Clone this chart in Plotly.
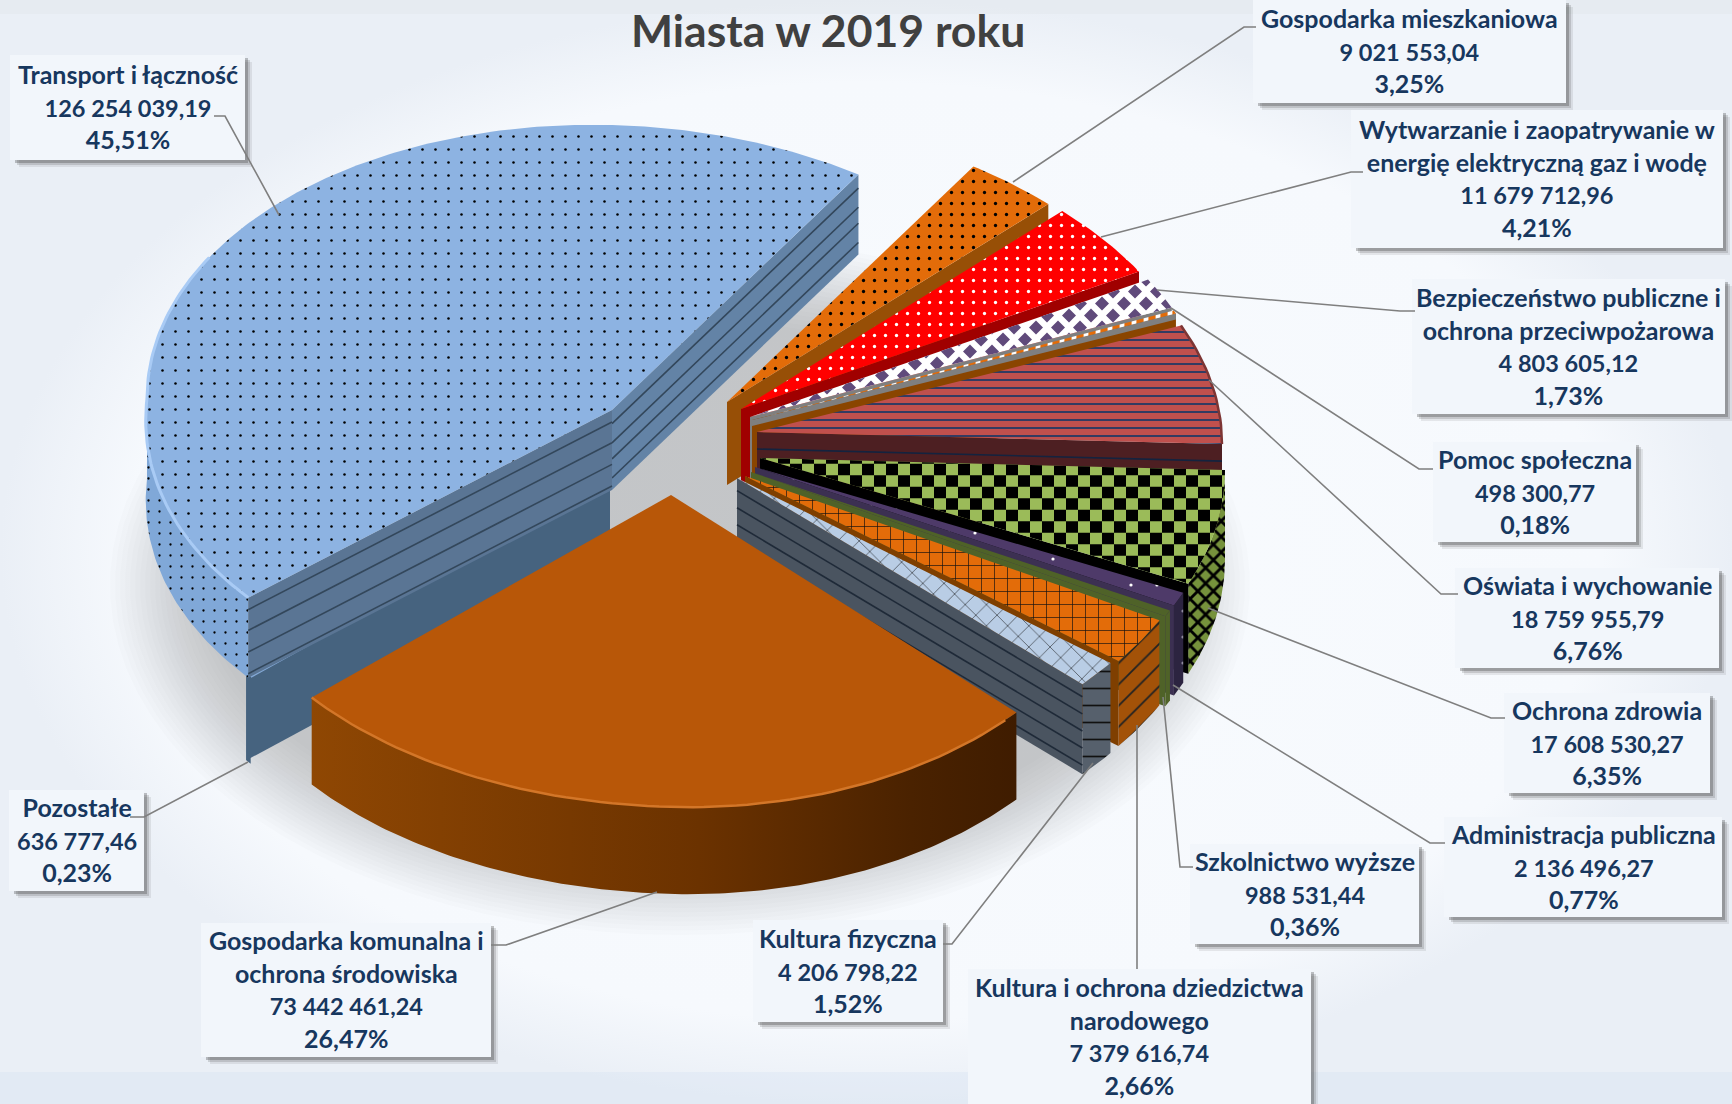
import math
import numpy as np
import plotly.graph_objects as go

# ---------- data ----------
names = ["Gospodarka mieszkaniowa", "Wytwarzanie i zaopatrywanie w<br>energię elektryczną gaz i wodę",
         "Bezpieczeństwo publiczne i<br>ochrona przeciwpożarowa", "Pomoc społeczna", "Oświata i wychowanie",
         "Ochrona zdrowia", "Administracja publiczna", "Szkolnictwo wyższe",
         "Kultura i ochrona dziedzictwa<br>narodowego", "Kultura fizyczna",
         "Gospodarka komunalna i<br>ochrona środowiska", "Pozostałe", "Transport i łączność"]
values = [9021553.04, 11679712.96, 4803605.12, 498300.77, 18759955.79, 17608530.27, 2136496.27,
          988531.44, 7379616.74, 4206798.22, 73442461.24, 636777.46, 126254039.19]
percents = ["3,25%", "4,21%", "1,73%", "0,18%", "6,76%", "6,35%", "0,77%", "0,36%", "2,66%", "1,52%",
            "26,47%", "0,23%", "45,51%"]
title = "Miasta w 2019 roku"

# ---------- layout of the exploded pie ----------
START = 32.0
apex = [(727, 402), (741, 409), (750, 417), (752, 420), (757, 432), (760, 458), (755, 467), (751, 472),
        (745, 476), (737, 478), (671, 495), (610, 475), (612, 410)]
depth = [83, 75, 80, 80, 85, 90, 90, 90, 85, 90, 87, 89, 80]
near = [295, 295, 295, 295, 295, 295, 295, 295, 295, 295, 312, 308, 295]
RX, FAR, SHEAR = 465, 285, 0.025

top_style = [
    dict(bg="#e36c09", fg="#000000", shape=".", size=11, sol=0.07),
    dict(bg="#ff0000", fg="#ffffff", shape=".", size=11, sol=0.07),
    dict(bg="#ffffff"),
    dict(bg="#e36c09", fg="#ffffff", shape="|", size=12, sol=0.4),
    dict(bg="#c0504d", fg="#1f3864", shape="-", size=8, sol=0.22),
    dict(bg="#9bbb59"),
    dict(bg="#4e3a69", fg="#ffffff", shape=".", size=26, sol=0.012),
    dict(bg="#4f6228"),
    dict(bg="#e36c09", fg="#111111", shape="+", size=13, sol=0.1),
    dict(bg="#b9cde5", fg="#111111", shape="x", size=15, sol=0.07),
    dict(bg="#b85708"),
    dict(bg="#8db3e2"),
    dict(bg="#8db3e2", fg="#000000", shape=".", size=13, sol=0.03),
]
wall_col = ["#974f06", "#a00000", "#7f7f7f", "#8a4500", "#4d1f22", "#000000", "#3c3052", "#4f6228",
            "#7f3f00", "#4a5460", "#b85708", "#46637f", "#6383a6"]
rim_style = {5: dict(bg="#76923c", fg="#000000", shape="x", size=11, sol=0.45),
             6: dict(bg="#2c2440", fg="#8f8aa0", shape=".", size=26, sol=0.012),
             7: dict(bg="#4f6228"),
             8: dict(bg="#a35208", fg="#222222", shape="/", size=15, sol=0.12),
             9: dict(bg="#56606c", fg="#111111", shape="-", size=17, sol=0.1),
             12: dict(bg="#80a8d8", fg="#000000", shape=".", size=11, sol=0.035),
             11: dict(bg="#46637f")}
stripes = {4: (0.2, 0.45, 0.7), 9: (0.14, 0.33, 0.52, 0.71, 0.9), 12: (0.17, 0.41, 0.61, 0.85)}
leaders = [[(1013, 182), (1244, 27), (1256, 27)], [(1101, 237), (1351, 172), (1363, 172)],
           [(1157, 290), (1400, 311), (1415, 311)], [(1171, 308), (1419, 469), (1433, 469)],
           [(1209, 380), (1441, 594), (1458, 594)], [(1208, 608), (1491, 718), (1505, 718)],
           [(1173, 685), (1430, 843), (1445, 843)], [(1163, 697), (1180, 867), (1193, 867)],
           [(1137, 725), (1137, 969)], [(1093, 763), (952, 944), (943, 944)],
           [(657, 892), (506, 945), (491, 945)], [(248, 762), (144, 817), (130, 817)],
           [(279, 215), (225, 116), (214, 116)]]
boxes = [(1253, 0, 1566, 103), (1351, 110, 1723, 248), (1412, 279, 1725, 414), (1433, 442, 1636, 542),
         (1455, 568, 1719, 668), (1504, 693, 1710, 793), (1444, 817, 1722, 917), (1190, 844, 1419, 944),
         (968, 969, 1311, 1104), (753, 920, 943, 1022), (201, 923, 491, 1057), (9, 790, 144, 891),
         (10, 55, 245, 160)]

fig = go.Figure()


def poly(xs, ys, bg=None, fg=None, shape=None, size=None, sol=None, grad=None, line=None, lw=0):
    kw = dict(x=list(xs) + [xs[0]], y=list(ys) + [ys[0]], mode="lines", fill="toself", hoverinfo="skip",
              showlegend=False, line=dict(width=lw, color=line or "rgba(0,0,0,0)"))
    if grad:
        kw["fillgradient"] = grad
    elif shape:
        kw["fillcolor"] = bg
        kw["fillpattern"] = dict(shape=shape, bgcolor=bg, fgcolor=fg, size=size, solidity=sol, fillmode="replace")
    else:
        kw["fillcolor"] = bg
    fig.add_trace(go.Scatter(**kw))


def stroke(xs, ys, color, width):
    fig.add_trace(go.Scatter(x=list(xs), y=list(ys), mode="lines", hoverinfo="skip", showlegend=False,
                             line=dict(color=color, width=width)))


def rim(i, deg):
    t = math.radians(deg)
    s, c = math.sin(t), math.cos(t)
    ax, ay = apex[i]
    fx = 1 + 0.075 * abs(c) if (s < 0 and c < 0) else 1
    x = ax + RX * s * fx
    y = ay - c * (FAR if c > 0 else near[i]) + SHEAR * (x - ax)
    return x, y


def clip_convex(cell, xs, ys):
    """Cut a small cell down to a convex slice outline."""
    area = sum(xs[k] * ys[(k + 1) % len(xs)] - xs[(k + 1) % len(xs)] * ys[k] for k in range(len(xs)))
    sign = 1 if area > 0 else -1
    out = cell
    for k in range(len(xs)):
        ex, ey = xs[k], ys[k]
        fx, fy = xs[(k + 1) % len(xs)], ys[(k + 1) % len(xs)]
        if abs(ex - fx) + abs(ey - fy) < 1e-9:
            continue
        side = lambda p: sign * ((fx - ex) * (p[1] - ey) - (fy - ey) * (p[0] - ex))
        res = []
        for m in range(len(out)):
            p, q = out[m], out[(m + 1) % len(out)]
            sp, sq = side(p), side(q)
            if sp >= 0:
                res.append(p)
            if (sp >= 0) != (sq >= 0):
                u = sp / (sp - sq)
                res.append((p[0] + u * (q[0] - p[0]), p[1] + u * (q[1] - p[1])))
        out = res
        if not out:
            return []
    return out


def tile(xs, ys, step_x, step_y, kind, color, half):
    px, py = [], []
    for r, gy in enumerate(np.arange(min(ys), max(ys) + step_y, step_y)):
        for q, gx in enumerate(np.arange(min(xs), max(xs) + step_x, step_x)):
            if (q + r) % 2:
                continue
            if kind == "square":
                cell = [(gx - step_x / 2, gy - step_y / 2), (gx + step_x / 2, gy - step_y / 2),
                        (gx + step_x / 2, gy + step_y / 2), (gx - step_x / 2, gy + step_y / 2)]
            else:
                cell = [(gx, gy - half), (gx + half, gy), (gx, gy + half), (gx - half, gy)]
            cut = clip_convex(cell, xs, ys)
            if len(cut) >= 3:
                px += [p[0] for p in cut] + [cut[0][0], None]
                py += [p[1] for p in cut] + [cut[0][1], None]
    fig.add_trace(go.Scatter(x=px, y=py, mode="lines", fill="toself", fillcolor=color, hoverinfo="skip",
                             showlegend=False, line=dict(width=0, color=color)))


# ---------- background ----------
poly([0, 1732, 1732, 0], [0, 0, 1104, 1104],
     grad=dict(type="radial", colorscale=[[0, "#f8fbfe"], [0.85, "#f6f9fd"], [1, "#eaeff6"]]))
poly([0, 1732, 1732, 0], [0, 0, 14, 14], bg="rgba(225,230,236,0.4)")
poly([0, 1732, 1732, 0], [1072, 1072, 1104, 1104], bg="rgba(205,220,238,0.25)")

# ---------- soft shadow ----------
for k in range(20):
    t = np.radians(np.arange(0, 361, 4))
    ra, rb = 570 - 5 * k, 350 - 4.5 * k
    poly(list(680 + ra * np.sin(t)), list(585 - rb * np.cos(t)), bg="rgba(110,115,120,0.024)")

# ---------- slices ----------
total = sum(values)
angles = [START]
for v in values:
    angles.append(angles[-1] + v / total * 360)
spans = [(angles[i], angles[i + 1]) for i in range(len(values))]

order = [11, 12] + list(range(0, 11))
for i in order:
    a0, a1 = spans[i]
    ax, ay = apex[i]
    h = depth[i]
    deg = np.linspace(a0, a1, max(3, int((a1 - a0) * 1.5) + 2))
    rx, ry = zip(*[rim(i, d) for d in deg])
    rx, ry = list(rx), list(ry)

    # outer wall, only where the rim faces the viewer
    vis = [d for d in deg if 90 <= (d % 360) <= 270]
    if vis and i != 12:
        wx, wy = zip(*[rim(i, d) for d in vis])
        wx, wy = list(wx), list(wy)
        if i == 10:
            poly(wx + wx[::-1], wy + [y + h for y in wy[::-1]],
                 grad=dict(type="horizontal", colorscale=[[0, "#8f4703"], [0.55, "#6b3200"], [0.85, "#4a2200"], [1, "#3f1c00"]]))
        else:
            poly(wx + wx[::-1], wy + [y + h for y in wy[::-1]], **rim_style.get(i, dict(bg=wall_col[i])))
    if i == 12:
        vis = np.linspace(a0, 270, 60)
        wx, wy = zip(*[rim(i, d) for d in vis])
        wx, wy = list(wx), list(wy)
        poly(wx + wx[::-1], wy + [y + h for y in wy[::-1]], **rim_style[12])

    # radial wall along the trailing edge
    if i != 10:
        ex, ey = rx[-1], ry[-1]
        poly([ax, ex, ex, ax], [ay, ey, ey + h, ay + h], bg=wall_col[i])
        if i == 3:
            poly([ax, ex, ex, ax], [ay, ey, ey + 6, ay + 6], bg="#7f7f7f")
        for f in stripes.get(i, ()):
            stroke([ax, ex], [ay + f * h, ey + f * h], "#33475b" if i == 12 else ("#1f2a38" if i == 9 else "#14233f"), 1.6)
    if i == 12:
        # leading radial wall
        ex, ey = rx[0], ry[0]
        poly([ax, ex, ex, ax], [ay, ey, ey + h, ay + h], bg="#5a7594")
        for f in (0.15, 0.41, 0.68, 0.95):
            stroke([ax, ex], [ay + f * h, ey + f * h], "#33475b", 1.6)

    # top face
    tx, ty = [ax] + rx, [ay] + ry
    poly(tx, ty, **top_style[i])
    if i == 2:
        tile(tx, ty, 11, 12, "diamond", "#604a7b", 7)
    if i == 5:
        tile(tx, ty, 12, 11.5, "square", "#000000", 0)
    if i == 12:
        hl = np.linspace(a0, 300, 70)
        hx, hy = zip(*[rim(i, d) for d in hl])
        stroke(hx, hy, "#a9cbf5", 3)
    if i == 11:
        stroke([ax, rx[0]], [ay + 2, ry[0] + 2], "#84a9d6", 2.5)
    if i == 10:
        hl = np.linspace(a0 + 2, a1, 70)
        hx, hy = zip(*[rim(i, d) for d in hl])
        stroke(hx, hy, "#d37628", 2.5)
    if i == 4:
        hl = np.linspace(a0, a1, 20)
        hx, hy = zip(*[rim(i, d) for d in hl])
        stroke(hx, hy, "#7d3534", 2.5)

# ---------- label boxes, leaders, texts ----------
shapes = []
for x0, y0, x1, y1 in boxes:
    for off, alpha in ((7, 0.10), (5, 0.18), (3, 0.30)):
        shapes.append(dict(type="rect", x0=x0 + off + 2, y0=y0 + off, x1=x1 + off, y1=y1 + off, xref="x", yref="y",
                           fillcolor=f"rgba(60,60,60,{alpha})", line=dict(width=0), layer="above"))
    shapes.append(dict(type="rect", x0=x0, y0=y0, x1=x1, y1=y1, xref="x", yref="y", fillcolor="#f2f6fb",
                       line=dict(width=0), layer="above"))
for path in leaders:
    d = "M " + " L ".join(f"{x},{y}" for x, y in path)
    shapes.append(dict(type="path", path=d, xref="x", yref="y", line=dict(color="#7f7f7f", width=1.6), layer="above"))

ann = []
for i, nm in enumerate(names):
    x0, y0, x1, y1 = boxes[i]
    money = f"{values[i]:,.2f}".replace(",", " ").replace(".", ",")
    ann.append(dict(x=(x0 + x1) / 2, y=(y0 + y1) / 2 - 1, xref="x", yref="y", xanchor="center", yanchor="middle",
                    text=f'<b>{nm}<br><span style="font-size:23.5px">{money}</span><br>{percents[i]}</b>',
                    showarrow=False, align="center", font=dict(family="Lato", size=25, color="#17375e")))
ann.append(dict(x=828, y=29, xref="x", yref="y", xanchor="center", yanchor="middle", showarrow=False,
                text=f"<b>{title}</b>", font=dict(family="Lato", size=44.5, color="#404040")))

fig.update_layout(width=1732, height=1104, margin=dict(l=0, r=0, t=0, b=0), paper_bgcolor="#f5f9fd",
                  plot_bgcolor="rgba(0,0,0,0)", showlegend=False, shapes=shapes, annotations=ann,
                  xaxis=dict(range=[0, 1732], visible=False, fixedrange=True),
                  yaxis=dict(range=[1104, 0], visible=False, fixedrange=True))
fig.write_html("out.html", config=dict(displayModeBar=False),
               post_script="document.body.style.margin='0';document.body.style.overflow='hidden';")
